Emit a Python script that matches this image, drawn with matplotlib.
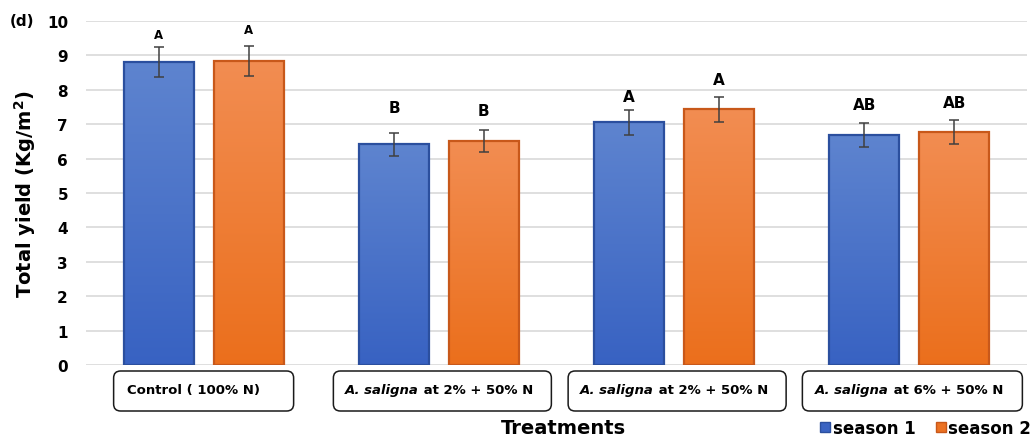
import matplotlib
matplotlib.use("Agg")
import matplotlib.pyplot as plt
import numpy as np
from matplotlib.patches import FancyBboxPatch, Patch
from matplotlib.colors import LinearSegmentedColormap
from matplotlib.transforms import IdentityTransform

# ---- data ----
treat_italic = ["", "A. saligna", "A. saligna", "A. saligna"]
treat_rest = ["Control ( 100% N)", " at 2% + 50% N", " at 2% + 50% N", " at 6% + 50% N"]
season1 = [8.80, 6.41, 7.05, 6.69]
season2 = [8.84, 6.51, 7.43, 6.78]
err1 = [0.44, 0.32, 0.36, 0.34]
err2 = [0.44, 0.32, 0.37, 0.35]
letters1 = ["A", "B", "A", "AB"]
letters2 = ["A", "B", "A", "AB"]
series_names = ["season 1", "season 2"]
yticks = list(range(0, 11))

# letter offsets above error caps (points) and font sizes
letter_off1 = [9.2, 19.0, 10.0, 13.7]
letter_off2 = [11.5, 14.4, 12.2, 12.2]
letter_size = [8.5, 11, 11, 11]

plt.rcParams["font.family"] = "DejaVu Sans"
plt.rcParams["font.weight"] = "bold"

W, H = 1033, 439
fig = plt.figure(figsize=(W / 100, H / 100), dpi=100)
ax = fig.add_axes([86 / W, 1 - 366 / H, (1027 - 86) / W, (366 - 22) / H])

blue_cmap = LinearSegmentedColormap.from_list("b", ["#3862c2", "#5e84cf"])
orange_cmap = LinearSegmentedColormap.from_list("o", ["#eb6f1c", "#f28d52"])
blue_edge = "#2b4f9e"
orange_edge = "#c8581a"

x = np.arange(len(season1))
bw = 0.298
off = 0.191

grad = np.linspace(0, 1, 256).reshape(-1, 1)


def gradient_bars(xpos, vals, cmap, edge):
    bars = ax.bar(xpos, vals, width=bw, color="none", edgecolor=edge,
                  linewidth=1.6, zorder=3)
    for b in bars:
        x0, w, h = b.get_x(), b.get_width(), b.get_height()
        im = ax.imshow(grad, extent=[x0, x0 + w, 0, h], origin="lower",
                       aspect="auto", cmap=cmap, zorder=2)
        im.set_clip_path(b)
    return bars


gradient_bars(x - off, season1, blue_cmap, blue_edge)
gradient_bars(x + off, season2, orange_cmap, orange_edge)

ax.errorbar(x - off, season1, yerr=err1, fmt="none", ecolor="#404040",
            elinewidth=1.1, capsize=3.5, capthick=1.1, zorder=4)
ax.errorbar(x + off, season2, yerr=err2, fmt="none", ecolor="#404040",
            elinewidth=1.1, capsize=3.5, capthick=1.1, zorder=4)

for i in range(len(x)):
    ax.annotate(letters1[i], (x[i] - off, season1[i] + err1[i]),
                xytext=(0, letter_off1[i]), textcoords="offset points",
                ha="center", va="center", fontsize=letter_size[i],
                fontweight="bold")
    ax.annotate(letters2[i], (x[i] + off, season2[i] + err2[i]),
                xytext=(0, letter_off2[i]), textcoords="offset points",
                ha="center", va="center", fontsize=letter_size[i],
                fontweight="bold")

ax.set_xlim(-0.5, len(x) - 0.5)
ax.set_ylim(0, 10)
ax.set_yticks(yticks)
ax.set_yticklabels([str(t) for t in yticks], fontsize=11, fontweight="bold")
ax.set_xticks([])
ax.tick_params(axis="y", length=0, pad=13)
ax.grid(axis="y", color="#d9d9d9", linewidth=1.2, zorder=0)
ax.set_axisbelow(True)
for s in ax.spines.values():
    s.set_visible(False)

ax.set_ylabel("Total yield (Kg/m$^{\\mathbf{2}}$)", fontsize=14,
              fontweight="bold", labelpad=6)

fig.text(10 / W, 1 - 21 / H, "(d)", fontsize=11, fontweight="bold",
         va="center", ha="left")

# treatment label boxes below the axis
renderer = fig.canvas.get_renderer()
box_half = [90, 109, 109, 110]
box_shift = [0, 3.5, 3, 3]
ybot, ytop = H - 412, H - 372
for i in range(len(x)):
    cx = ax.transData.transform((x[i], 0))[0]
    bx = cx + box_shift[i] - box_half[i]
    box = FancyBboxPatch((bx, ybot), 2 * box_half[i], ytop - ybot,
                         boxstyle="round,pad=0,rounding_size=7",
                         transform=IdentityTransform(), facecolor="white",
                         edgecolor="#1a1a1a", linewidth=1.1)
    fig.patches.append(box)
    ty = (ybot + ytop) / 2 + 1
    if treat_italic[i]:
        t1 = fig.text(0, ty, treat_italic[i], transform=IdentityTransform(),
                      fontsize=9.5, fontweight="bold", style="italic",
                      va="center", ha="left")
        t2 = fig.text(0, ty, treat_rest[i], transform=IdentityTransform(),
                      fontsize=9.5, fontweight="bold", va="center", ha="left")
        w1 = t1.get_window_extent(renderer).width
        w2 = t2.get_window_extent(renderer).width
        start = cx - (w1 + w2) / 2
        t1.set_x(start)
        t2.set_x(start + w1)
    else:
        fig.text(bx + 13, ty, treat_rest[i], transform=IdentityTransform(),
                 fontsize=9.5, fontweight="bold", va="center", ha="left")

fig.text(563 / W, 1 - 429 / H, "Treatments", fontsize=14, fontweight="bold",
         ha="center", va="center")

handles = [Patch(facecolor="#3a63c2", edgecolor=blue_edge),
           Patch(facecolor="#ec7222", edgecolor=orange_edge)]
fig.legend(handles, series_names, loc="center right", ncol=2,
           bbox_to_anchor=(1031 / W, 1 - 429 / H), frameon=False,
           handlelength=0.6, handleheight=0.6, handletextpad=0.15,
           columnspacing=1.2, prop={"size": 12, "weight": "bold"},
           borderaxespad=0, borderpad=0)

fig.savefig("out.png", dpi=100)
